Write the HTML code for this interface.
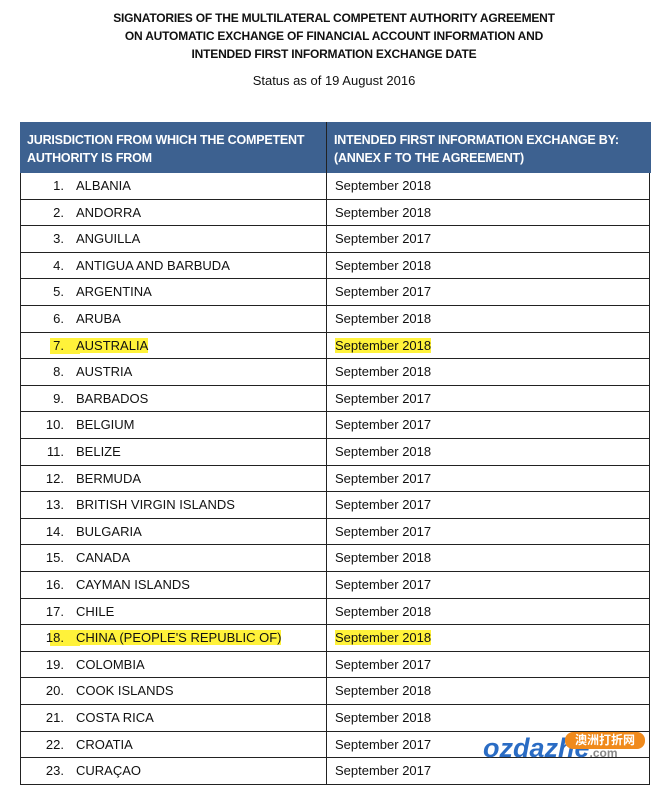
<!DOCTYPE html><html><head><style>
body{margin:0;width:668px;height:785px;background:#fff;font-family:"Liberation Sans",sans-serif;overflow:hidden;position:relative;color:#111}
.t{position:absolute;left:0;width:668px;text-align:center;font-weight:bold;font-size:12px;letter-spacing:-0.2px}
.s{position:absolute;left:0;width:668px;text-align:center;font-size:13px;top:73px}
.hd{position:absolute;top:122px;left:20px;width:631px;height:51px;background:#3d6190;color:#fff;font-weight:bold;font-size:12.5px}
.hd div{position:absolute;top:9px;line-height:18px;letter-spacing:-0.2px}
.vl{position:absolute;top:122px;left:326px;width:1px;height:663px;background:#222}
.r{position:absolute;left:20px;width:630px;height:26.6px;border-left:1px solid #222;border-right:1px solid #222;border-bottom:1px solid #222;box-sizing:border-box;font-size:13px}
.n{position:absolute;left:14px;width:29px;text-align:right;top:5px;white-space:nowrap}
.c{position:absolute;left:55px;top:5px;white-space:nowrap}
.d{position:absolute;left:314px;top:5px}
.hl{background:#fff23a}
.hb{position:absolute;top:5px;left:29px;height:16px;background:#fff23a}
</style></head><body>
<div class="t" style="top:11px">SIGNATORIES OF THE MULTILATERAL COMPETENT AUTHORITY AGREEMENT</div>
<div class="t" style="top:29px">ON AUTOMATIC EXCHANGE OF FINANCIAL ACCOUNT INFORMATION AND</div>
<div class="t" style="top:47px">INTENDED FIRST INFORMATION EXCHANGE DATE</div>
<div class="s">Status as of 19 August 2016</div>
<div class="hd"><div style="left:7px">JURISDICTION FROM WHICH THE COMPETENT<br>AUTHORITY IS FROM</div><div style="left:314px">INTENDED FIRST INFORMATION EXCHANGE BY:<br>(ANNEX F TO THE AGREEMENT)</div></div>
<div id="rows"></div>
<div class="vl"></div>
<div style="position:absolute;left:483px;top:733px;font-weight:bold;font-style:italic;font-size:27px;color:#2a6cc4;font-family:'Liberation Sans',sans-serif">ozdazhe<span style="font-size:12px;color:#888;font-style:normal">.com</span></div>
<div style="position:absolute;left:565px;top:732px;width:80px;height:17px;background:#f08a1c;border-radius:8px;color:#fff;font-size:12px;font-weight:bold;text-align:center;font-family:'Liberation Sans','Noto Sans CJK SC',sans-serif;line-height:17px">澳洲打折网</div>
<script>
var d=[["ALBANIA",8],["ANDORRA",8],["ANGUILLA",7],["ANTIGUA AND BARBUDA",8],["ARGENTINA",7],["ARUBA",8],["AUSTRALIA",8],["AUSTRIA",8],["BARBADOS",7],["BELGIUM",7],["BELIZE",8],["BERMUDA",7],["BRITISH VIRGIN ISLANDS",7],["BULGARIA",7],["CANADA",8],["CAYMAN ISLANDS",7],["CHILE",8],["CHINA (PEOPLE'S REPUBLIC OF)",8],["COLOMBIA",7],["COOK ISLANDS",8],["COSTA RICA",8],["CROATIA",7],["CURAÇAO",7]];
var h="";d.forEach(function(x,i){var hl=(i==6||i==17);h+='<div class="r" style="top:'+(173+i*26.6)+'px">'+(hl?'<div class="hb" style="width:30px"></div>':'')+'<span class="n">'+(i+1)+'.</span><span class="c'+(hl?' hl':'')+'">'+x[0]+'</span><span class="d'+(hl?' hl':'')+'">September 201'+x[1]+'</span></div>';});
document.getElementById("rows").innerHTML=h;
</script>
</body></html>
